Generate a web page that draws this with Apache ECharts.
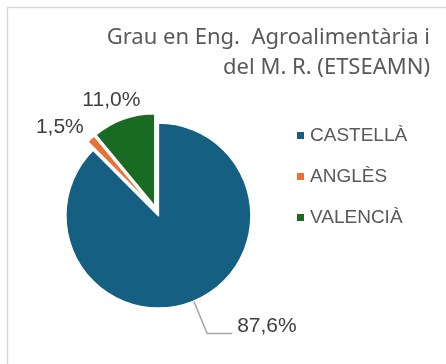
<!DOCTYPE html>
<html>
<head>
<meta charset="utf-8">
<script src="https://cdn.jsdelivr.net/npm/echarts@6/dist/echarts.min.js"></script>
<style>
  html, body { margin: 0; padding: 0; background: #fff; }
  #chart { width: 446px; height: 364px; }
</style>
</head>
<body>
<div id="chart"></div>
<script>
// Language of instruction shares (%)
const categories = ['CASTELLÀ', 'ANGLÈS', 'VALENCIÀ'];
const shares = [87.6, 1.5, 11.0];
const colors = ['#156082', '#E97132', '#196B24'];
const titleLines = ['Grau en Eng.  Agroalimentària i', 'del M. R. (ETSEAMN)'];

const fmt = v => v.toFixed(1).replace('.', ',') + '%';

// per-slice label nudges (dx, dy) after the default outside placement
const labelNudge = [[0, -7], [30, 11], [44, 9]];
// per-slice leader line lengths (first segment, second segment)
const lineLengths = [[35, 25], [30, 12], [30, 12]];

const chart = echarts.init(document.getElementById('chart'), null, { renderer: 'canvas' });

// right-aligned two-line chart title
const titleGraphics = titleLines.map((line, i) => ({
  type: 'text',
  right: 16,
  top: 27 + i * 30,
  silent: true,
  style: {
    text: line,
    fontFamily: 'Noto Sans',
    fontSize: 22,
    fill: '#595959'
  }
}));

chart.setOption({
  animation: false,
  backgroundColor: '#ffffff',
  graphic: [{
    type: 'rect',
    shape: { x: 7.5, y: 7.5, width: 470, height: 400 },
    style: { fill: 'none', stroke: '#d9d9d9', lineWidth: 1.5 },
    silent: true
  }].concat(titleGraphics),
  legend: {
    orient: 'vertical',
    left: 290,
    top: 121,
    icon: 'rect',
    itemWidth: 9,
    itemHeight: 9,
    itemGap: 22,
    selectedMode: false,
    textStyle: {
      fontFamily: 'Liberation Sans',
      fontSize: 19,
      color: '#595959'
    },
    data: categories
  },
  series: [{
    type: 'pie',
    center: [156.5, 211],
    radius: [0, 92.5],
    startAngle: 90,
    clockwise: true,
    selectedMode: 'multiple',
    selectedOffset: 5,
    avoidLabelOverlap: false,
    emphasis: { disabled: true },
    itemStyle: { borderColor: '#ffffff', borderWidth: 1.5 },
    select: { itemStyle: { borderColor: '#ffffff', borderWidth: 1.5 } },
    label: {
      position: 'outside',
      fontFamily: 'Liberation Sans',
      fontSize: 21,
      color: '#404040',
      formatter: p => fmt(p.value)
    },
    labelLine: {
      show: true,
      lineStyle: { color: '#a6a6a6', width: 1.5 }
    },
    labelLayout: p => ({ dx: labelNudge[p.dataIndex][0], dy: labelNudge[p.dataIndex][1] }),
    data: categories.map((name, i) => ({
      name,
      value: shares[i],
      selected: true,
      itemStyle: { color: colors[i] },
      labelLine: { show: i === 0, length: lineLengths[i][0], length2: lineLengths[i][1] }
    }))
  }]
});
</script>
</body>
</html>
